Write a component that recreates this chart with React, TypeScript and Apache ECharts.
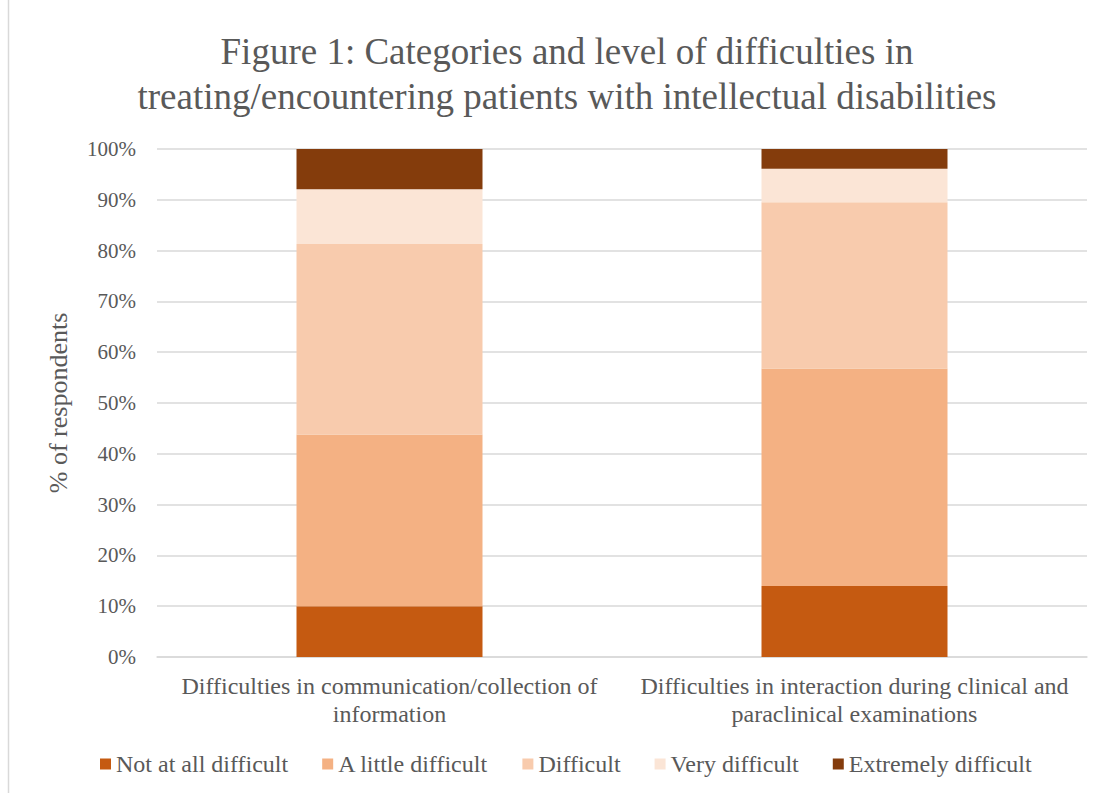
import React, { useEffect, useRef } from "react";
import * as echarts from "echarts";

const categories = [
  "Difficulties in communication/collection of\ninformation",
  "Difficulties in interaction during clinical and\nparaclinical examinations",
];
const seriesNames = ["Not at all difficult", "A little difficult", "Difficult", "Very difficult", "Extremely difficult"];
const notAtAll = [10.0, 14.0];
const aLittle = [33.8, 42.8];
const difficult = [37.5, 32.7];
const veryDifficult = [10.8, 6.6];
const extremely = [7.9, 3.9];
const colors = ["#C55A11", "#F4B183", "#F8CBAD", "#FBE5D6", "#843C0C"];
const yTicks = [0, 10, 20, 30, 40, 50, 60, 70, 80, 90, 100];

export default function App() {
  const ref = useRef<HTMLDivElement>(null);
  useEffect(() => {
    document.body.style.margin = "0";
    const chart = echarts.init(ref.current!, null, { renderer: "svg" });
    const font = "'Liberation Serif', 'Times New Roman', serif";
    const data = [notAtAll, aLittle, difficult, veryDifficult, extremely];
    chart.setOption({
      animation: false,
      backgroundColor: "#ffffff",
      textStyle: { fontFamily: font },
      title: {
        text: "Figure 1: Categories and level of difficulties in\ntreating/encountering patients with intellectual disabilities",
        left: 562,
        top: 24,
        textAlign: "center",
        textStyle: { fontFamily: font, fontSize: 37, fontWeight: "normal", color: "#595959", lineHeight: 45 },
      },
      legend: {
        data: seriesNames,
        bottom: 12,
        left: 95,
        itemWidth: 11,
        itemHeight: 11,
        itemGap: 34,
        icon: "rect",
        textStyle: { fontFamily: font, fontSize: 24, color: "#595959" },
      },
      grid: { left: 157, right: 21, top: 149, bottom: 136 },
      xAxis: {
        type: "category",
        data: categories,
        axisLine: { lineStyle: { color: "#d9d9d9", width: 1.5 } },
        axisTick: { show: false },
        axisLabel: { interval: 0, fontFamily: font, fontSize: 24, color: "#595959", lineHeight: 28, margin: 15 },
      },
      yAxis: {
        type: "value",
        min: 0,
        max: 100,
        interval: 10,
        name: "% of respondents",
        nameLocation: "middle",
        nameGap: 86,
        nameTextStyle: { fontFamily: font, fontSize: 26, color: "#595959" },
        axisLine: { show: false },
        axisTick: { show: false },
        splitLine: { lineStyle: { color: "#d9d9d9", width: 1.5 } },
        axisLabel: {
          fontFamily: font,
          fontSize: 21,
          color: "#595959",
          margin: 21,
          formatter: (v: number) => (yTicks.includes(v) ? v + "%" : ""),
        },
      },
      series: seriesNames.map((name, i) => ({
        name,
        type: "bar",
        stack: "total",
        barWidth: "40%",
        data: data[i],
        itemStyle: { color: colors[i] },
      })),
      graphic: [
        {
          type: "rect",
          shape: { x: 8.5, y: -2, width: 1110, height: 800 },
          style: { fill: "none", stroke: "#d9d9d9", lineWidth: 1.5 },
          silent: true,
        },
      ],
    });
    return () => chart.dispose();
  }, []);
  return <div ref={ref} style={{ position: "absolute", left: 0, top: 0, width: 1108, height: 793 }} />;
}
